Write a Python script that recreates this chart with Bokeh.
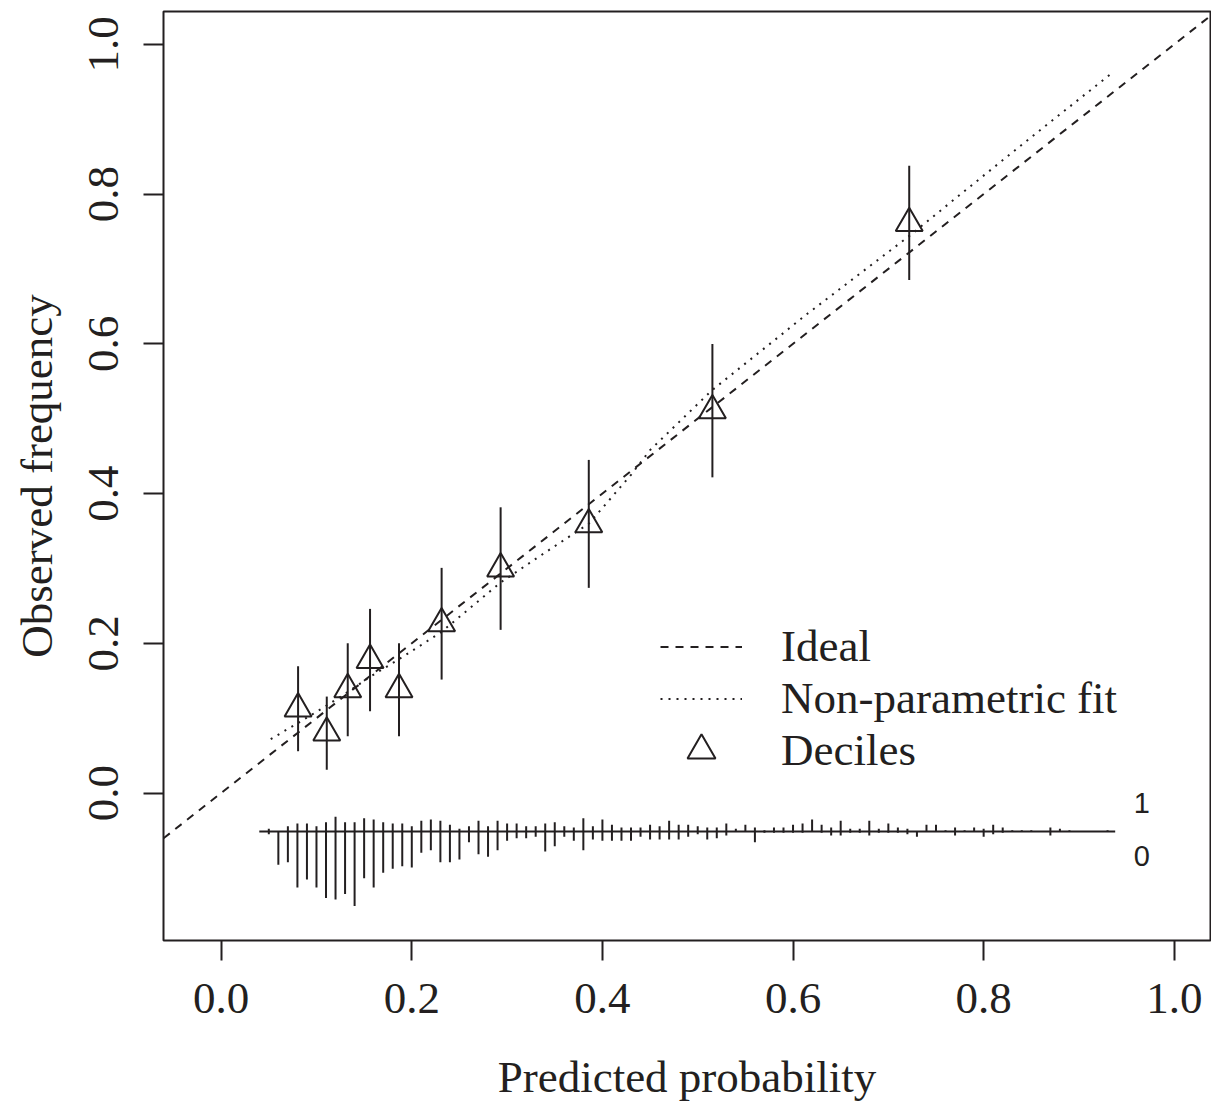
from bokeh.plotting import figure
from bokeh.models import (Range1d, FixedTicker, NumeralTickFormatter, Legend,
                          LegendItem, Label, ColumnDataSource)
from bokeh.embed import file_html
from bokeh.resources import INLINE

# ---------------- data ----------------
decile_pred = [0.0807, 0.1108, 0.1328, 0.1562, 0.1866, 0.2313, 0.2932, 0.3857, 0.5154, 0.7219]
decile_obs = [0.1126, 0.0805, 0.1383, 0.1774, 0.1383, 0.2264, 0.2996, 0.3586, 0.5108, 0.7609]
decile_lo = [0.0558, 0.0310, 0.0758, 0.1092, 0.0758, 0.1515, 0.2179, 0.2740, 0.4216, 0.6852]
decile_hi = [0.1693, 0.1288, 0.2000, 0.2459, 0.2000, 0.3007, 0.3816, 0.4449, 0.5997, 0.8378]

fit_x = [0.052, 0.080, 0.111, 0.133, 0.156, 0.187, 0.231, 0.293, 0.335, 0.386,
         0.430, 0.450, 0.515, 0.615, 0.724, 0.776, 0.850, 0.934]
fit_y = [0.072, 0.093, 0.117, 0.135, 0.155, 0.179, 0.215, 0.281, 0.317, 0.360,
         0.425, 0.458, 0.538, 0.640, 0.746, 0.800, 0.876, 0.961]

spike_x = [0.05, 0.06, 0.07, 0.08, 0.09, 0.10, 0.11, 0.12, 0.13, 0.14,
           0.15, 0.16, 0.17, 0.18, 0.19, 0.20, 0.21, 0.22, 0.23, 0.24,
           0.25, 0.26, 0.27, 0.28, 0.29, 0.30, 0.31, 0.32, 0.33, 0.34,
           0.35, 0.36, 0.37, 0.38, 0.39, 0.40, 0.41, 0.42, 0.43, 0.44,
           0.45, 0.46, 0.47, 0.48, 0.49, 0.50, 0.51, 0.52, 0.53, 0.54,
           0.55, 0.56, 0.57, 0.58, 0.59, 0.60, 0.61, 0.62, 0.63, 0.64,
           0.65, 0.66, 0.67, 0.68, 0.69, 0.70, 0.71, 0.72, 0.73, 0.74,
           0.75, 0.76, 0.77, 0.78, 0.79, 0.80, 0.81, 0.82, 0.83, 0.84,
           0.85, 0.86, 0.87, 0.88, 0.89, 0.90, 0.91, 0.92, 0.93]
# counts of outcome = 1 (spikes up) and outcome = 0 (spikes down)
spike_n1 = [2, 0, 4, 6, 6, 4, 7, 11, 7, 7,
            10, 9, 7, 6, 6, 4, 8, 9, 8, 5,
            2, 4, 8, 4, 8, 6, 6, 4, 4, 6,
            7, 4, 3, 10, 4, 9, 5, 3, 3, 3,
            5, 4, 8, 5, 5, 4, 3, 3, 6, 2,
            5, 3, 1, 3, 3, 5, 6, 9, 5, 3,
            8, 2, 2, 8, 2, 6, 3, 2, 0, 5,
            5, 1, 3, 1, 3, 2, 5, 3, 1, 1,
            1, 0, 3, 2, 1, 0, 0, 0, 1]
spike_n0 = [2, 25, 23, 42, 36, 42, 50, 51, 47, 56,
            35, 42, 31, 28, 26, 27, 16, 14, 23, 23,
            21, 8, 17, 19, 14, 7, 5, 5, 4, 15,
            11, 4, 7, 14, 6, 7, 7, 7, 7, 4,
            6, 6, 6, 6, 4, 2, 6, 5, 3, 0,
            0, 8, 1, 1, 1, 1, 1, 0, 1, 3,
            3, 1, 1, 3, 1, 1, 1, 2, 4, 0,
            0, 0, 3, 0, 0, 4, 2, 1, 0, 0,
            0, 0, 3, 0, 0, 0, 0, 0, 0]
pred_range = [0.040, 0.938]

x_ticks = [0.0, 0.2, 0.4, 0.6, 0.8, 1.0]
y_ticks = [0.0, 0.2, 0.4, 0.6, 0.8, 1.0]

# ---------------- styling ----------------
INK = "#231f20"
SERIF = "Liberation Serif"
SANS = "Liberation Sans"
LW = 2.0
FS = "45px"

x_range = Range1d(-0.0605, 1.038)
y_range = Range1d(-0.197, 1.0438)

p = figure(width=1211, height=1104, x_range=x_range, y_range=y_range,
           output_backend="svg", toolbar_location=None,
           min_border_left=163, min_border_right=1, min_border_top=11,
           min_border_bottom=164, x_axis_label="Predicted probability",
           y_axis_label="Observed frequency")

p.grid.visible = False
p.outline_line_color = INK
p.outline_line_width = LW
p.background_fill_color = "white"
p.border_fill_color = "white"

for ax, ticks in ((p.xaxis[0], x_ticks), (p.yaxis[0], y_ticks)):
    ax.ticker = FixedTicker(ticks=ticks)
    ax.formatter = NumeralTickFormatter(format="0.0")
    ax.minor_tick_line_color = None
    ax.major_tick_in = 0
    ax.major_tick_out = 20
    ax.major_tick_line_color = INK
    ax.major_tick_line_width = LW
    ax.axis_line_color = None
    ax.major_label_text_font = SERIF
    ax.major_label_text_font_size = FS
    ax.major_label_text_color = INK
    ax.axis_label_text_font = SERIF
    ax.axis_label_text_font_size = FS
    ax.axis_label_text_font_style = "normal"
    ax.axis_label_text_color = INK

p.xaxis[0].major_label_standoff = 23
p.xaxis[0].axis_label_standoff = 36
p.yaxis[0].major_label_orientation = "vertical"
p.yaxis[0].major_label_standoff = 25
p.yaxis[0].axis_label_standoff = 25

# ideal line (y = x across the plotting region)
ideal_r = p.line(x=[x_range.start, x_range.end], y=[x_range.start, x_range.end],
                 line_color=INK, line_width=LW, line_dash="8 7")

# non-parametric (lowess) fit
fit_r = p.line(x=fit_x, y=fit_y, line_color=INK, line_width=LW, line_dash="2 6")

# decile error bars + triangles
dec_src = ColumnDataSource(dict(x=decile_pred, y=decile_obs, lo=decile_lo, hi=decile_hi))
p.segment(x0="x", y0="lo", x1="x", y1="hi", source=dec_src,
          line_color=INK, line_width=LW)
dec_r = p.scatter(x="x", y="y", source=dec_src, marker="triangle", size=27,
                  fill_color=None, line_color=INK, line_width=LW)

# spike histogram of predicted probabilities by outcome
BASE = -0.0514
SCALE = 0.00178
up_x = [x for x, n in zip(spike_x, spike_n1) if n > 0]
up_top = [BASE + n * SCALE for n in spike_n1 if n > 0]
dn_x = [x for x, n in zip(spike_x, spike_n0) if n > 0]
dn_bot = [BASE - n * SCALE for n in spike_n0 if n > 0]
p.segment(x0=pred_range[0], y0=BASE, x1=pred_range[1], y1=BASE,
          line_color=INK, line_width=LW)
p.segment(x0=up_x, y0=[BASE] * len(up_x), x1=up_x, y1=up_top,
          line_color=INK, line_width=LW)
p.segment(x0=dn_x, y0=[BASE] * len(dn_x), x1=dn_x, y1=dn_bot,
          line_color=INK, line_width=LW)

p.add_layout(Label(x=0.966, y=-0.0127, text="1", text_align="center",
                   text_baseline="middle", text_font=SANS, text_font_size="29px",
                   text_color=INK))
p.add_layout(Label(x=0.966, y=-0.0848, text="0", text_align="center",
                   text_baseline="middle", text_font=SANS, text_font_size="29px",
                   text_color=INK))

common = dict(glyph_width=82, spacing=0, label_standoff=39, padding=0, margin=0,
              border_line_color=None, background_fill_alpha=0,
              label_text_font=SERIF, label_text_font_size=FS,
              label_text_color=INK, label_text_baseline="middle")
legend_lines = Legend(items=[LegendItem(label="Ideal", renderers=[ideal_r]),
                             LegendItem(label="Non-parametric fit", renderers=[fit_r])],
                      location=(497, 216), glyph_height=51, label_height=51, **common)
legend_pts = Legend(items=[LegendItem(label="Deciles", renderers=[dec_r])],
                    location=(497, 155), glyph_height=70, label_height=51, **common)
p.add_layout(legend_lines)
p.add_layout(legend_pts)

open("out.html", "w").write(file_html(p, INLINE))
